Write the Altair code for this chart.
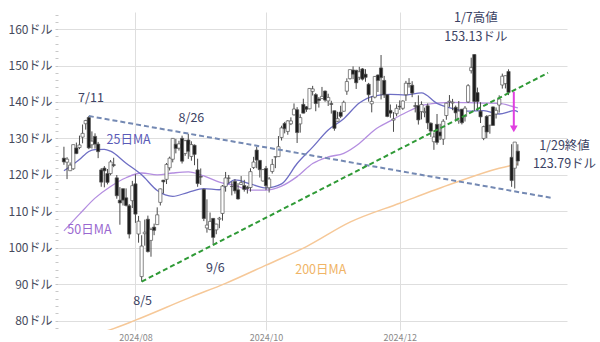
import altair as alt
import pandas as pd

# ---------------- data ----------------
dates = [
    "2024-06-28",
    "2024-07-01", "2024-07-02", "2024-07-03", "2024-07-05", "2024-07-08", "2024-07-09", "2024-07-10",
    "2024-07-11", "2024-07-12", "2024-07-15", "2024-07-16", "2024-07-17", "2024-07-18", "2024-07-19",
    "2024-07-22", "2024-07-23", "2024-07-24", "2024-07-25", "2024-07-26", "2024-07-29", "2024-07-30",
    "2024-07-31",
    "2024-08-01", "2024-08-02", "2024-08-05", "2024-08-06", "2024-08-07", "2024-08-08", "2024-08-09",
    "2024-08-12", "2024-08-13", "2024-08-14", "2024-08-15", "2024-08-16", "2024-08-19", "2024-08-20",
    "2024-08-21", "2024-08-22", "2024-08-23", "2024-08-26", "2024-08-27", "2024-08-28", "2024-08-29",
    "2024-08-30",
    "2024-09-03", "2024-09-04", "2024-09-05", "2024-09-06", "2024-09-09", "2024-09-10", "2024-09-11",
    "2024-09-12", "2024-09-13", "2024-09-16", "2024-09-17", "2024-09-18", "2024-09-19", "2024-09-20",
    "2024-09-23", "2024-09-24", "2024-09-25", "2024-09-26", "2024-09-27", "2024-09-30",
    "2024-10-01", "2024-10-02", "2024-10-03", "2024-10-04", "2024-10-07", "2024-10-08", "2024-10-09",
    "2024-10-10", "2024-10-11", "2024-10-14", "2024-10-15", "2024-10-16", "2024-10-17", "2024-10-18",
    "2024-10-21", "2024-10-22", "2024-10-23", "2024-10-24", "2024-10-25", "2024-10-28", "2024-10-29",
    "2024-10-30", "2024-10-31",
    "2024-11-01", "2024-11-04", "2024-11-05", "2024-11-06", "2024-11-07", "2024-11-08", "2024-11-11",
    "2024-11-12", "2024-11-13", "2024-11-14", "2024-11-15", "2024-11-18", "2024-11-19", "2024-11-20",
    "2024-11-21", "2024-11-22", "2024-11-25", "2024-11-26", "2024-11-27", "2024-11-29",
    "2024-12-02", "2024-12-03", "2024-12-04", "2024-12-05", "2024-12-06", "2024-12-09", "2024-12-10",
    "2024-12-11", "2024-12-12", "2024-12-13", "2024-12-16", "2024-12-17", "2024-12-18", "2024-12-19",
    "2024-12-20", "2024-12-23", "2024-12-24", "2024-12-26", "2024-12-27", "2024-12-30", "2024-12-31",
    "2025-01-02", "2025-01-03", "2025-01-06", "2025-01-07", "2025-01-08", "2025-01-10", "2025-01-13",
    "2025-01-14", "2025-01-15", "2025-01-16", "2025-01-17", "2025-01-21", "2025-01-22", "2025-01-23",
    "2025-01-24", "2025-01-27", "2025-01-28", "2025-01-29",
]

opens = [
    124.58,
    123.47, 121.13, 121.66, 127.38, 127.49, 130.35, 134.03, 135.75, 128.26, 130.56, 128.44, 121.35,
    121.85, 120.35, 120.35, 122.78, 119.17, 113.04, 116.19, 113.69, 111.52, 112.90,
    117.53, 103.76, 92.06, 103.84, 107.81, 102.00, 105.64, 106.32, 112.44, 118.53, 118.76, 121.94,
    124.28, 128.40, 127.32, 130.02, 125.86, 129.57, 125.05, 128.12, 121.36, 119.53,
    116.01, 105.41, 104.99, 108.04, 104.88, 107.81, 109.39, 116.84, 119.08, 116.79, 118.17, 115.89,
    117.35, 117.06, 116.55, 116.52, 122.02, 126.80, 123.97, 118.31,
    121.77, 116.44, 120.92, 124.94, 124.99, 130.26, 134.11, 131.91, 134.01, 136.47, 137.87, 133.98,
    139.34, 138.67, 138.13, 142.91, 142.03, 140.82, 140.93, 143.00, 140.29, 139.54, 137.60,
    134.70, 137.21, 137.45, 142.96, 146.39, 148.77, 148.68, 146.78, 149.07, 147.64, 144.87, 139.50,
    141.32, 147.41, 149.35, 145.93, 141.99, 137.70, 135.01, 136.78,
    138.83, 138.26, 142.00, 145.11, 144.60, 138.97, 139.01, 137.36, 137.08, 138.94, 134.18, 129.09,
    133.86, 131.76, 129.81, 136.28, 140.00, 139.70, 138.55, 134.83, 138.03,
    136.00, 140.01, 148.59, 153.03, 142.58, 137.45, 129.99, 136.05, 133.65, 138.64, 136.69, 139.16,
    144.66, 145.05, 148.37, 124.80, 121.81, 126.50,
]

highs = [
    127.71,
    124.84, 123.41, 128.28, 128.85, 130.77, 133.82, 135.10, 136.15, 131.92, 131.39, 129.04, 121.85,
    122.40, 121.60, 124.07, 124.69, 119.95, 116.63, 116.20, 116.28, 111.99, 118.34,
    120.16, 108.72, 103.41, 107.71, 108.80, 105.50, 106.60, 111.07, 116.23, 118.60, 123.24, 125.00,
    130.00, 129.88, 129.35, 130.75, 129.60, 131.26, 129.20, 128.33, 124.43, 121.75,
    116.21, 113.27, 109.65, 108.15, 106.55, 108.45, 117.19, 120.79, 119.96, 118.18, 118.80, 117.70,
    119.66, 118.62, 116.99, 121.80, 124.94, 127.67, 124.03, 121.50,
    122.44, 119.38, 124.36, 125.04, 130.64, 133.48, 134.52, 135.00, 135.78, 139.60, 138.57, 136.62,
    140.89, 138.90, 143.71, 144.42, 142.43, 141.35, 144.13, 143.14, 142.26, 140.33, 137.61,
    137.31, 138.96, 140.37, 146.49, 148.93, 149.77, 148.85, 149.65, 149.33, 149.00, 145.24, 141.55,
    147.13, 147.56, 152.89, 147.16, 142.05, 139.30, 137.22, 139.35,
    140.45, 140.45, 145.79, 146.54, 145.70, 139.95, 141.82, 140.17, 138.44, 139.60, 134.40, 131.59,
    136.70, 134.03, 135.28, 139.79, 141.90, 140.85, 139.02, 140.27, 138.07,
    138.88, 144.90, 152.16, 153.13, 143.95, 139.92, 133.49, 136.38, 136.45, 138.75, 138.50, 141.83,
    147.79, 147.23, 148.97, 128.40, 129.00, 128.39,
]

lows = [
    122.75,
    118.83, 121.03, 121.36, 125.68, 127.04, 128.65, 132.42, 127.05, 127.22, 127.18, 124.58, 116.72,
    116.56, 117.37, 119.86, 122.10, 113.44, 106.30, 111.58, 111.30, 102.54, 110.88,
    106.81, 101.37, 90.69, 100.55, 98.69, 97.52, 103.43, 106.25, 111.58, 114.87, 117.47, 121.18,
    123.42, 125.89, 126.66, 123.10, 125.22, 124.37, 123.88, 122.64, 116.71, 117.22,
    107.29, 104.12, 104.76, 100.95, 103.69, 105.35, 107.42, 115.38, 117.60, 114.36, 114.83, 113.22,
    117.25, 115.39, 114.86, 115.38, 121.61, 121.80, 119.26, 118.15,
    115.79, 115.14, 120.34, 121.83, 124.95, 129.42, 131.38, 131.00, 133.66, 136.30, 128.74, 131.58,
    136.87, 137.28, 138.00, 141.78, 137.46, 138.46, 140.80, 140.05, 138.90, 136.81, 132.11,
    134.57, 135.57, 137.33, 141.96, 146.17, 146.26, 143.57, 146.01, 145.90, 145.55, 140.08, 137.15,
    140.99, 142.73, 140.70, 141.10, 135.82, 135.67, 131.80, 136.05,
    137.82, 137.82, 140.29, 143.95, 141.31, 137.13, 133.79, 135.21, 135.80, 132.54, 130.42, 126.86,
    128.28, 129.55, 128.22, 135.12, 138.65, 137.73, 134.71, 134.02, 133.83,
    134.63, 139.73, 147.82, 137.56, 137.56, 134.22, 129.51, 130.05, 131.29, 133.49, 135.46, 137.09,
    143.67, 143.72, 141.88, 116.70, 116.25, 122.52,
]

closes = [
    123.54,
    124.30, 122.67, 128.28, 125.83, 128.20, 131.38, 134.91, 127.40, 129.24, 128.44, 126.36, 117.99,
    121.09, 117.93, 123.54, 122.59, 114.25, 112.28, 113.06, 111.59, 103.73, 117.02,
    109.21, 107.27, 100.45, 104.25, 98.91, 104.97, 104.75, 109.02, 116.14, 118.08, 122.86, 124.58,
    130.00, 127.25, 128.50, 123.74, 129.37, 126.46, 128.30, 125.61, 117.59, 119.37,
    108.00, 106.21, 107.21, 102.83, 106.47, 108.10, 116.91, 119.14, 119.10, 116.78, 115.59, 113.37,
    117.87, 116.00, 116.26, 120.87, 123.51, 124.04, 121.40, 121.44,
    117.00, 118.85, 122.85, 124.92, 127.72, 132.89, 132.65, 134.81, 134.80, 138.07, 131.60, 135.72,
    136.93, 138.00, 143.71, 143.59, 139.56, 140.41, 141.54, 140.52, 141.25, 139.34, 132.76,
    135.40, 136.05, 139.91, 145.61, 148.88, 147.63, 145.26, 148.29, 146.27, 146.76, 141.98, 140.15,
    147.01, 145.89, 146.67, 141.95, 136.02, 136.92, 135.34, 138.25,
    138.63, 140.26, 145.14, 145.06, 142.44, 138.81, 135.07, 139.31, 137.34, 134.25, 132.00, 130.39,
    128.91, 130.68, 134.70, 139.67, 140.22, 139.93, 137.01, 137.49, 134.29,
    138.31, 144.47, 149.43, 140.14, 140.11, 135.91, 133.23, 131.76, 136.24, 133.57, 137.71, 140.83,
    147.07, 147.22, 142.62, 118.42, 128.99, 123.79,
]

# moving averages (values at sample dates)
ma25_dates = ["2024-06-28", "2024-07-08", "2024-07-11", "2024-07-15", "2024-07-18", "2024-07-22",
              "2024-07-29", "2024-08-05", "2024-08-12", "2024-08-19", "2024-08-26", "2024-09-03",
              "2024-09-10", "2024-09-17", "2024-09-24", "2024-10-01", "2024-10-08", "2024-10-15",
              "2024-10-22", "2024-10-29", "2024-11-05", "2024-11-12", "2024-11-19", "2024-11-26",
              "2024-12-04", "2024-12-11", "2024-12-18", "2024-12-26", "2025-01-03", "2025-01-13",
              "2025-01-21", "2025-01-28", "2025-01-29"]
ma25_values = [121.1, 124.2, 126.4, 126.9, 127.0, 126.5, 123.2, 120.0, 115.7, 114.1, 115.2, 116.2,
               115.9, 118.6, 117.5, 116.4, 117.5, 123.1, 127.6, 132.3, 135.4, 139.7, 141.7, 142.1,
               141.9, 142.5, 139.6, 138.2, 137.5, 137.6, 136.7, 137.6, 137.3]

ma50_dates = ["2024-06-28", "2024-07-08", "2024-07-15", "2024-07-22", "2024-07-29", "2024-08-05",
              "2024-08-12", "2024-08-19", "2024-08-26", "2024-09-03", "2024-09-10", "2024-09-17",
              "2024-09-24", "2024-10-01", "2024-10-08", "2024-10-15", "2024-10-22", "2024-10-29",
              "2024-11-05", "2024-11-12", "2024-11-19", "2024-11-26", "2024-12-04", "2024-12-11",
              "2024-12-18", "2024-12-26", "2025-01-03", "2025-01-13", "2025-01-21", "2025-01-28",
              "2025-01-29"]
ma50_values = [104.6, 109.2, 113.6, 116.8, 119.2, 120.5, 120.0, 120.5, 120.8, 119.7, 118.0, 117.1,
               115.8, 115.8, 116.9, 119.5, 123.1, 124.9, 125.9, 128.6, 132.4, 134.8, 137.1, 139.0,
               139.7, 139.9, 139.8, 139.7, 139.6, 138.6, 138.4]

ma200_dates = ["2024-07-15", "2024-07-22", "2024-08-01", "2024-08-27", "2024-09-12", "2024-10-01",
               "2024-10-18", "2024-11-07", "2024-12-02", "2024-12-26", "2025-01-21", "2025-01-29"]
ma200_values = [76.2, 77.5, 80.1, 86.5, 90.2, 95.2, 100.3, 107.0, 112.2, 117.6, 121.8, 123.0]

# trend lines (trading-day index, price)
down_trend_idx = [8, 157.3]
down_trend_price = [136.15, 113.6]
up_trend_idx = [25, 155.7]
up_trend_price = [90.69, 148.0]

# drop arrow
arrow_idx = [144.7, 144.7]
arrow_price = [142.8, 132.6]

# x-axis month labels
month_first_dates = ["2024-08-01", "2024-10-01", "2024-12-02"]
month_labels = ["2024/08", "2024/10", "2024/12"]

# annotations
ann_text = ["7/11", "8/26", "25日MA", "50日MA", "9/6", "8/5", "200日MA",
            "1/7高値", "153.13ドル", "1/29終値", "123.79ドル"]
ann_idx = [8.7, 41.0, 20.8, 8.2, 48.7, 25.3, 82.6, 132.5, 132.5, 161.0, 161.0]
ann_price = [141.0, 135.6, 129.5, 104.8, 94.3, 85.3, 93.9, 163.0, 157.9, 128.0, 123.0]
ann_color = ["#3b4263", "#3b4263", "#5b5bb8", "#9a68d0", "#3b4263", "#3b4263", "#f0b466",
             "#3b4263", "#3b4263", "#3b4263", "#3b4263"]

# ---------------- build ----------------
FONT = "Noto Sans CJK JP"
pos = {d: i for i, d in enumerate(dates)}

ohlc = pd.DataFrame({"i": range(len(dates)), "date": dates, "open": opens,
                     "high": highs, "low": lows, "close": closes})
ma25 = pd.DataFrame({"i": [pos[d] for d in ma25_dates], "v": ma25_values})
ma50 = pd.DataFrame({"i": [pos[d] for d in ma50_dates], "v": ma50_values})
ma200 = pd.DataFrame({"i": [pos[d] for d in ma200_dates], "v": ma200_values})
down_df = pd.DataFrame({"i": down_trend_idx, "v": down_trend_price})
up_df = pd.DataFrame({"i": up_trend_idx, "v": up_trend_price})
arrow_df = pd.DataFrame({"i": arrow_idx, "v": arrow_price})
ann_df = pd.DataFrame({"i": ann_idx, "v": ann_price, "t": ann_text, "c": ann_color})

month_idx = [pos[d] for d in month_first_dates]
label_expr = " : ".join(f"datum.value == {i} ? '{l}'" for i, l in zip(month_idx, month_labels)) + " : ''"

xs = alt.Scale(domain=[-0.3, 160.2], nice=False, zero=False)
ys = alt.Scale(domain=[77.4, 164.7], nice=False, zero=False)

x_axis = alt.Axis(values=month_idx, labelExpr=label_expr, grid=True, gridColor="#dedede",
                  gridWidth=1, ticks=False, domain=False, labelFontSize=9, labelColor="#8a8a8a",
                  labelPadding=3, labelFont=FONT, title=None)
y_axis = alt.Axis(values=list(range(78, 166, 2)),
                  labelExpr="datum.value % 10 === 0 ? datum.value + 'ドル' : ''",
                  grid=True, gridColor="#dedede", gridWidth=1,
                  gridOpacity={"condition": {"test": "datum.value % 10 === 0", "value": 1}, "value": 0},
                  tickSize=3, tickColor="#c8c8c8", domain=False, labelFontSize=12,
                  labelColor="#464a5c", labelPadding=3, labelOverlap=False, labelFont=FONT,
                  title=None)

X = lambda f="i": alt.X(f"{f}:Q", scale=xs, axis=x_axis)
Y = lambda f: alt.Y(f"{f}:Q", scale=ys, axis=y_axis)

wicks = alt.Chart(ohlc).mark_rule(color="#4a4a4a", strokeWidth=1).encode(
    x=X(), y=Y("low"), y2="high")

bodies = alt.Chart(ohlc).mark_bar(size=3.2, stroke="#555555", strokeWidth=0.7).encode(
    x=X(), y=Y("open"), y2="close",
    fill=alt.condition("datum.close >= datum.open", alt.value("#ffffff"), alt.value("#1c1c1c")))

def ma_line(df, color, width=1.3):
    return alt.Chart(df).mark_line(color=color, strokeWidth=width, interpolate="monotone",
                                   clip=True).encode(x=X(), y=Y("v"))

l25 = ma_line(ma25, "#6e6ec4")
l50 = ma_line(ma50, "#b48ee0")
l200 = ma_line(ma200, "#f6c898", 1.5)

down_line = alt.Chart(down_df).mark_line(color="#7489b3", strokeWidth=2, strokeDash=[5, 3]).encode(
    x=X(), y=Y("v"))
up_line = alt.Chart(up_df).mark_line(color="#2f9a36", strokeWidth=2, strokeDash=[5, 3]).encode(
    x=X(), y=Y("v"))

arrow_line = alt.Chart(arrow_df).mark_line(color="#e040e0", strokeWidth=2).encode(x=X(), y=Y("v"))
arrow_head = alt.Chart(arrow_df.tail(1)).mark_point(
    shape="triangle-down", filled=True, color="#e040e0", size=60, opacity=1).encode(x=X(), y=Y("v"))

texts = alt.Chart(ann_df).mark_text(font=FONT, fontSize=12.5, align="center", baseline="middle",
                                    lineHeight=13).encode(
    x=X(), y=Y("v"), text="t:N", color=alt.Color("c:N", scale=None))

chart = alt.layer(l200, l50, l25, wicks, bodies, down_line, up_line, arrow_line, arrow_head, texts).properties(
    width=509, height=318,
    padding={"left": 58, "right": 33, "top": 12, "bottom": 12},
    autosize=alt.AutoSizeParams(type="none"),
    background="white",
).configure_view(stroke=None)

chart.save("out.html", embed_options={"renderer": "svg", "actions": False})
